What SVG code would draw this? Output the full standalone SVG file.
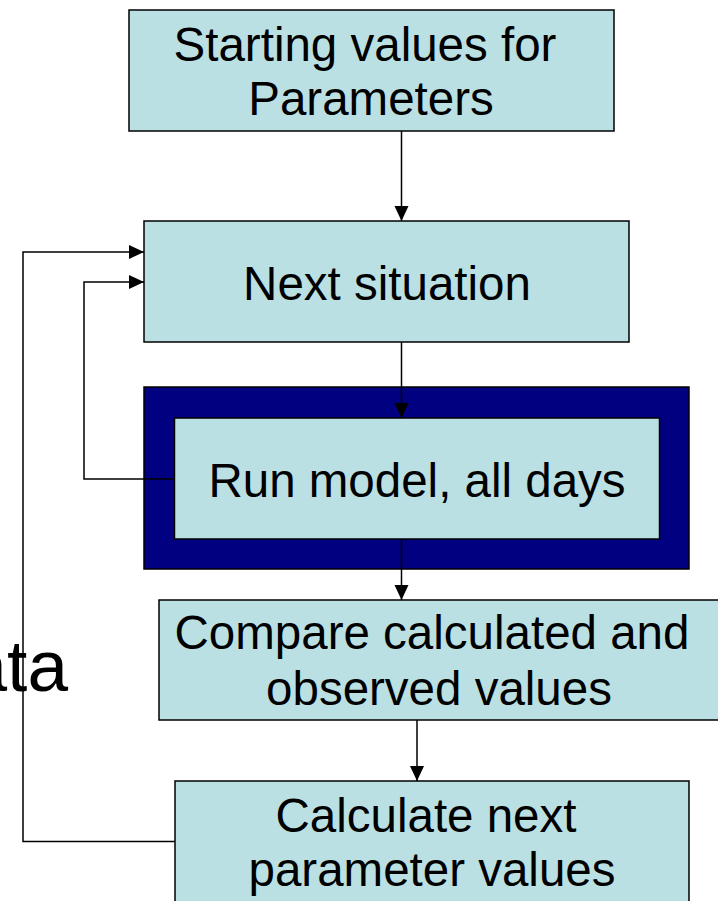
<svg xmlns="http://www.w3.org/2000/svg" width="718" height="901" viewBox="0 0 718 901">
  <defs>
    <style>
      .box { fill: #BBE0E3; stroke: #000000; stroke-width: 1.5; }
      .frame { fill: #000080; stroke: #000000; stroke-width: 1.5; }
      .label { font-family: "Liberation Sans", Arial, sans-serif; font-size: 47.5px; fill: #000000; text-anchor: middle; }
      .side { font-family: "Liberation Sans", Arial, sans-serif; font-size: 73px; fill: #000000; text-anchor: end; }
      .link { fill: none; stroke: #000000; stroke-width: 1.5; }
    </style>
    <marker id="arrow" markerUnits="userSpaceOnUse" markerWidth="16" markerHeight="16" viewBox="0 0 16 16" refX="15" refY="8" orient="auto">
      <path d="M0,1 L15,8 L0,15 Z" fill="#000000"/>
    </marker>
  </defs>

  <rect width="718" height="901" fill="#ffffff"/>

  <!-- partially visible side caption -->
  <text class="side" x="68" y="691">ata</text>

  <g id="start">
    <rect class="box" x="129" y="10" width="485" height="121"/>
    <text class="label" x="365" y="61">Starting values for</text>
    <text class="label" x="371" y="115">Parameters</text>
  </g>

  <g id="next-situation">
    <rect class="box" x="144" y="221" width="485" height="121"/>
    <text class="label" x="387" y="300">Next situation</text>
  </g>

  <g id="run-model">
    <rect class="frame" x="144" y="387" width="545" height="182"/>
    <rect class="box" x="174.5" y="418" width="485" height="121"/>
    <text class="label" x="417" y="497">Run model, all days</text>
  </g>

  <g id="compare">
    <rect class="box" x="159" y="600" width="562" height="120"/>
    <text class="label" x="432" y="649">Compare calculated and</text>
    <text class="label" x="439" y="705">observed values</text>
  </g>

  <g id="calculate">
    <rect class="box" x="175" y="781" width="514" height="125"/>
    <text class="label" x="426" y="832">Calculate next</text>
    <text class="label" x="432" y="886">parameter values</text>
  </g>

  <g id="connectors">
    <line class="link" x1="401.5" y1="131" x2="401.5" y2="221" marker-end="url(#arrow)"/>
    <line class="link" x1="401.5" y1="342" x2="401.5" y2="418" marker-end="url(#arrow)"/>
    <line class="link" x1="401.5" y1="539" x2="401.5" y2="600" marker-end="url(#arrow)"/>
    <line class="link" x1="417" y1="720" x2="417" y2="781" marker-end="url(#arrow)"/>
    <polyline class="link" points="175,479 84,479 84,282 144,282" marker-end="url(#arrow)"/>
    <polyline class="link" points="175,841.5 23,841.5 23,252 144,252" marker-end="url(#arrow)"/>
  </g>
</svg>
